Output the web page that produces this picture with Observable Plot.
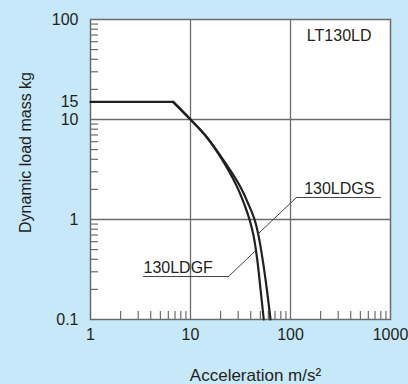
<!DOCTYPE html>
<html><head><meta charset="utf-8">
<script src="https://cdn.jsdelivr.net/npm/d3@7"></script>
<script src="https://cdn.jsdelivr.net/npm/@observablehq/plot@0.6"></script>
<style>
html,body{margin:0;padding:0;background:#c6e8f8;}
#chart svg{display:block}
</style></head><body><div id="chart"></div>
<script>
// Data
const massKg = [15, 15, 10, 6.92, 4.37, 2.19, 1.38, 1.0, 0.69, 0.39, 0.195, 0.1];
const gfAccel = [1, 6.7, 10, 14.1, 19.5, 28.8, 34.9, 38.9, 42.7, 46.6, 50.3, 54];
const gsAccel = [1, 6.7, 10, 14.1, 19.8, 31.0, 38.5, 43.7, 47.9, 52.8, 58.2, 63.1];

const xTickLabels = [1, 10, 100, 1000];
const yTickLabels = [0.1, 1, 10, 15, 100];
const gridXValues = [10, 100];
const gridYValues = [1, 10];
const minorX = [2,3,4,5,6,7,8,9,20,30,40,50,60,70,80,90,200,300,400,500,600,700,800,900];
const minorY = [0.2,0.3,0.4,0.5,0.6,0.7,0.8,0.9,2,3,4,5,6,7,8,9,20,30,40,50,60,70,80,90];

const title = "LT130LD";
const xLabel = "Acceleration m/s\u00B2";
const yLabel = "Dynamic load mass kg";
const gsName = "130LDGS";
const gfName = "130LDGF";

const gf = gfAccel.map((a, i) => ({a, m: massKg[i]}));
const gs = gsAccel.map((a, i) => ({a, m: massKg[i]}));

const ink = "#231f20";
const gridC = "#6b6b6b";
const bg = "#c6e8f8";

const plot = Plot.plot({
  width: 408, height: 384,
  marginLeft: 90, marginRight: 18, marginTop: 19, marginBottom: 65,
  style: {background: bg, fontFamily: "'Liberation Sans', Arial, Helvetica, sans-serif", fontSize: "16px", color: ink, overflow: "visible"},
  x: {type: "log", domain: [1, 1000]},
  y: {type: "log", domain: [0.1, 100]},
  marks: [
    Plot.frame({fill: "white", stroke: null}),
    Plot.gridX(gridXValues, {stroke: gridC, strokeOpacity: 1, strokeWidth: 1.3}),
    Plot.gridY(gridYValues, {stroke: gridC, strokeOpacity: 1, strokeWidth: 1.3}),
    Plot.tickX(minorX, {x: d => d, insetTop: 292, stroke: gridC, strokeWidth: 1.2}),
    Plot.tickY(minorY, {y: d => d, insetRight: 292, stroke: gridC, strokeWidth: 1.2}),
    Plot.frame({stroke: gridC, strokeWidth: 1.5}),
    Plot.axisX(xTickLabels, {tickSize: 0, tickPadding: 9, tickFormat: d => String(d), fontSize: 16, fill: ink, label: null}),
    Plot.axisY(yTickLabels, {tickSize: 0, tickPadding: 12, tickFormat: d => String(d), fontSize: 16, fill: ink, label: null}),
    // curves
    Plot.line(gf.slice(0, 2), {x: "a", y: "m", stroke: ink, strokeWidth: 2.2}),
    Plot.line(gf.slice(1), {x: "a", y: "m", stroke: ink, strokeWidth: 2.2, curve: "catmull-rom"}),
    Plot.line(gs.slice(1), {x: "a", y: "m", stroke: ink, strokeWidth: 2.2, curve: "catmull-rom"}),
    // leaders
    Plot.line([{a: 114.8, m: 1.66}, {a: 794, m: 1.66}], {x: "a", y: "m", stroke: "#444", strokeWidth: 1}),
    Plot.line([{a: 114.8, m: 1.66}, {a: 47.4, m: 0.719}], {x: "a", y: "m", stroke: "#444", strokeWidth: 1}),
    Plot.line([{a: 3.39, m: 0.269}, {a: 24.0, m: 0.269}], {x: "a", y: "m", stroke: "#444", strokeWidth: 1}),
    Plot.line([{a: 24.0, m: 0.269}, {a: 45, m: 0.49}], {x: "a", y: "m", stroke: "#444", strokeWidth: 1}),
    Plot.text([gsName], {x: 137, y: 2.04, text: d => d, textAnchor: "start", fontSize: 16, fill: ink}),
    Plot.text([gfName], {x: 3.39, y: 0.331, text: d => d, textAnchor: "start", fontSize: 16, fill: ink}),
    Plot.text([title], {frameAnchor: "top-right", dx: -19, dy: 16, text: d => d, textAnchor: "end", lineAnchor: "middle", fontSize: 16, fill: ink}),
    Plot.text([xLabel], {frameAnchor: "bottom", dx: 15, dy: 56, text: d => d, textAnchor: "middle", lineAnchor: "middle", fontSize: 17, fill: ink}),
    Plot.text([yLabel], {frameAnchor: "left", dx: -65, dy: -17, rotate: -90, text: d => d, textAnchor: "middle", lineAnchor: "middle", fontSize: 16, fill: ink})
  ]
});
document.getElementById("chart").appendChild(plot);
</script>
</body></html>
